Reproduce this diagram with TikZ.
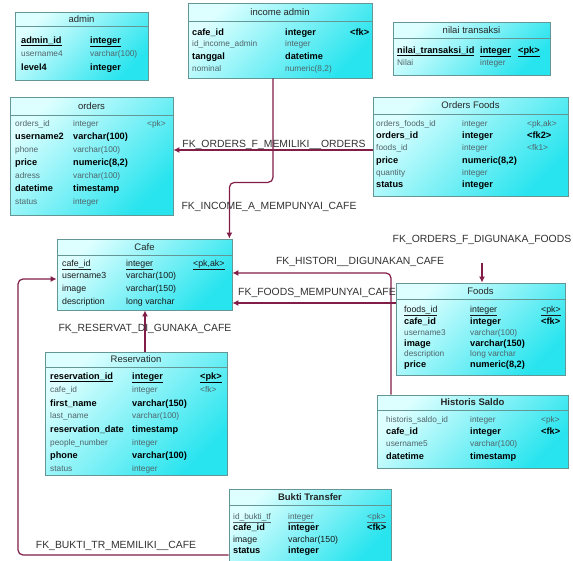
\documentclass[tikz,border=0pt]{standalone}
\usepackage{fontspec}
\setmainfont{Liberation Sans}
\usetikzlibrary{arrows.meta,fit}

\definecolor{fkcolor}{RGB}{128,30,72}
\definecolor{boxedge}{RGB}{100,150,150}
\definecolor{cyanlight}{RGB}{222,255,255}
\definecolor{cyandeep}{RGB}{40,228,238}
\definecolor{lighttext}{RGB}{80,100,105}
\definecolor{labeltext}{RGB}{50,50,50}

% current column positions of the table being filled
\newcommand\erA{0}\newcommand\erB{0}\newcommand\erC{0}
\newcommand\setcols[3]{\renewcommand\erA{#1}\renewcommand\erB{#2}\renewcommand\erC{#3}}

% table frame: name, left, top, right, bottom, header line y, title, title style
\newcommand\ertable[8]{%
  \node[tablebox, fit={(#2,#3) (#4,#5)}] (#1) {};
  \draw[tableframe] (#2,#6) -- (#4,#6);
  \node[tabletitle,#8] (#1-title) at ({(#2+#4)/2},{(#3+#6)/2}) {#7};
}
% one column row: prefix, style, baseline y, column name, data type
\newcommand\errow[5]{%
  \node[#2] (#1-n) at (\erA,#3) {#4};
  \node[#2] (#1-t) at (\erB,#3) {#5};
}
% same, with a key column
\newcommand\errowk[6]{%
  \errow{#1}{#2}{#3}{#4}{#5}%
  \node[#2] (#1-k) at (\erC,#3) {#6};
}

\tikzset{
  tablebox/.style={draw=boxedge, line width=0.8pt, inner sep=0pt,
    top color=cyanlight, bottom color=cyandeep, shading angle=45},
  tableframe/.style={draw=boxedge, line width=0.8pt},
  tabletitle/.style={inner sep=0pt, font=\fontsize{9.5}{10}\selectfont, text=black!85},
  colb/.style={anchor=base west, inner sep=0pt, font=\bfseries\fontsize{9.2}{10}\selectfont, text=black},
  colm/.style={anchor=base west, inner sep=0pt, font=\fontsize{8.8}{10}\selectfont, text=black!90},
  coll/.style={anchor=base west, inner sep=0pt, font=\fontsize{8.3}{10}\selectfont, text=lighttext},
  fk/.style={draw=fkcolor, line width=1.2pt, -{Latex[length=6pt,width=6pt]}},
  fklabel/.style={inner sep=0pt, font=\fontsize{10.4}{12}\selectfont, text=labeltext},
}

\begin{document}
\begin{tikzpicture}[x=1pt,y=-1pt]
\useasboundingbox[fill=white] (0,0) rectangle (573,560);

% ---------- admin ----------
\ertable{admin}{15}{12}{148}{80}{26}{admin}{}
\setcols{21}{90}{0}
\errow{admin1}{colb}{43}{\underline{admin\_id}}{\underline{integer}}
\errow{admin2}{coll}{56}{username4}{varchar(100)}
\errow{admin3}{colb}{70}{level4}{integer}

% ---------- income admin ----------
\ertable{income}{188}{3}{372}{78}{21}{income admin}{}
\setcols{192}{285}{350}
\errowk{inc1}{colb}{35}{cafe\_id}{integer}{<fk>}
\errow{inc2}{coll}{46}{id\_income\_admin}{integer}
\errow{inc3}{colb}{59}{tanggal}{datetime}
\errow{inc4}{coll}{71}{nominal}{numeric(8,2)}

% ---------- nilai transaksi ----------
\ertable{nilai}{393}{22}{550}{75}{38}{nilai transaksi}{}
\setcols{397}{480}{518}
\errowk{nil1}{colb}{53}{\underline{nilai\_transaksi\_id}}{\underline{integer}}{\underline{<pk>}}
\errow{nil2}{coll}{65}{Nilai}{integer}

% ---------- orders ----------
\ertable{orders}{10}{97}{173}{215}{115}{orders}{}
\setcols{15}{73}{147}
\errowk{ord1}{coll}{126}{orders\_id}{integer}{<pk>}
\errow{ord2}{colb}{139}{username2}{varchar(100)}
\errow{ord3}{coll}{152}{phone}{varchar(100)}
\errow{ord4}{colb}{165}{price}{numeric(8,2)}
\errow{ord5}{coll}{178}{adress}{varchar(100)}
\errow{ord6}{colb}{191}{datetime}{timestamp}
\errow{ord7}{coll}{204}{status}{integer}

% ---------- Orders Foods ----------
\ertable{ordersfoods}{373}{97}{568}{196}{114}{Orders Foods}{}
\setcols{376}{462}{527}
\errowk{of1}{coll}{126}{orders\_foods\_id}{integer}{<pk,ak>}
\errowk{of2}{colb}{138}{orders\_id}{integer}{<fk2>}
\errowk{of3}{coll}{150}{foods\_id}{integer}{<fk1>}
\errow{of4}{colb}{163}{price}{numeric(8,2)}
\errow{of5}{coll}{175}{quantity}{integer}
\errow{of6}{colb}{187}{status}{integer}

% ---------- Cafe ----------
\ertable{cafe}{57}{239}{232}{310}{255}{Cafe}{}
\setcols{62}{126}{193}
\errowk{cafe1}{colm}{266}{\underline{cafe\_id}}{\underline{integer}}{\underline{<pk,ak>}}
\errow{cafe2}{colm}{278}{username3}{varchar(100)}
\errow{cafe3}{colm}{291}{image}{varchar(150)}
\errow{cafe4}{colm}{304}{description}{long varchar}

% ---------- Foods ----------
\ertable{foods}{396}{283}{565}{375}{299}{Foods}{}
\setcols{404}{470}{541}
\errowk{fd1}{colm}{312}{\underline{foods\_id}}{\underline{integer}}{\underline{<pk>}}
\errowk{fd2}{colb}{324}{cafe\_id}{integer}{<fk>}
\errow{fd3}{coll}{335}{username3}{varchar(100)}
\errow{fd4}{colb}{346}{image}{varchar(150)}
\errow{fd5}{coll}{356}{description}{long varchar}
\errow{fd6}{colb}{367}{price}{numeric(8,2)}

% ---------- Reservation ----------
\ertable{reservation}{45}{352}{227}{475}{367}{Reservation}{}
\setcols{50}{132}{200}
\errowk{rs1}{colb}{379}{\underline{reservation\_id}}{\underline{integer}}{\underline{<pk>}}
\errowk{rs2}{coll}{392}{cafe\_id}{integer}{<fk>}
\errow{rs3}{colb}{406}{first\_name}{varchar(150)}
\errow{rs4}{coll}{418}{last\_name}{varchar(100)}
\errow{rs5}{colb}{432}{reservation\_date}{timestamp}
\errow{rs6}{coll}{445}{people\_number}{integer}
\errow{rs7}{colb}{458}{phone}{varchar(100)}
\errow{rs8}{coll}{471}{status}{integer}

% ---------- Historis Saldo ----------
\ertable{historis}{377}{395}{568}{468}{410}{Historis Saldo}{font=\bfseries\fontsize{9.5}{10}\selectfont}
\setcols{386}{470}{541}
\errowk{hs1}{coll}{422}{historis\_saldo\_id}{integer}{<pk>}
\errowk{hs2}{colb}{434}{cafe\_id}{integer}{<fk>}
\errow{hs3}{coll}{446}{username5}{varchar(100)}
\errow{hs4}{colb}{459}{datetime}{timestamp}

% ---------- Bukti Transfer ----------
\ertable{bukti}{229}{489}{391}{562}{505}{Bukti Transfer}{font=\bfseries\fontsize{9.5}{10}\selectfont}
\setcols{233}{288}{367}
\errowk{bk1}{coll}{519}{\underline{id\_bukti\_tf}}{\underline{integer}}{\underline{<pk>}}
\errowk{bk2}{colb}{530}{cafe\_id}{integer}{<fk>}
\errow{bk3}{colm}{542}{image}{varchar(150)}
\errow{bk4}{colb}{553}{status}{integer}

% ---------- references ----------
\coordinate (ordy) at (0,150);
\coordinate (ofstart) at (482,263);
\coordinate (hisy) at (391,273);
\coordinate (foody) at (0,303);
\coordinate (resx) at (145,0);
\coordinate (bkcorner) at (18,555);
\coordinate (bky) at (0,279);

\draw[fk, rounded corners=5pt] ([xshift=-7pt]income.south) -- ++(0,104) -| ([xshift=-3pt]cafe.north east);
\draw[fk] (ordersfoods.west |- ordy) -- (orders.east |- ordy);
\draw[fk] (ofstart) -- (foods.north -| ofstart);
\draw[fk, rounded corners=5pt] (historis.north -| hisy) |- (cafe.east |- hisy);
\draw[fk] (foods.west |- foody) -- (cafe.east |- foody);
\draw[fk] (reservation.north -| resx) -- (cafe.south -| resx);
\draw[fk, rounded corners=5pt] (bukti.west |- bkcorner) -- (bkcorner) |- (cafe.west |- bky);

\node[fklabel] (l-orders) at (274,145) {FK\_ORDERS\_F\_MEMILIKI\_\_ORDERS};
\node[fklabel] (l-income) at (269,207) {FK\_INCOME\_A\_MEMPUNYAI\_CAFE};
\node[fklabel] (l-ofoods) at (482,240) {FK\_ORDERS\_F\_DIGUNAKA\_FOODS};
\node[fklabel] (l-histori) at (360,262) {FK\_HISTORI\_\_DIGUNAKAN\_CAFE};
\node[fklabel] (l-foods) at (317,293) {FK\_FOODS\_MEMPUNYAI\_CAFE};
\node[fklabel] (l-reserv) at (145,329) {FK\_RESERVAT\_DI\_GUNAKA\_CAFE};
\node[fklabel] (l-bukti) at (116,546) {FK\_BUKTI\_TR\_MEMILIKI\_\_CAFE};
\end{tikzpicture}
\end{document}
